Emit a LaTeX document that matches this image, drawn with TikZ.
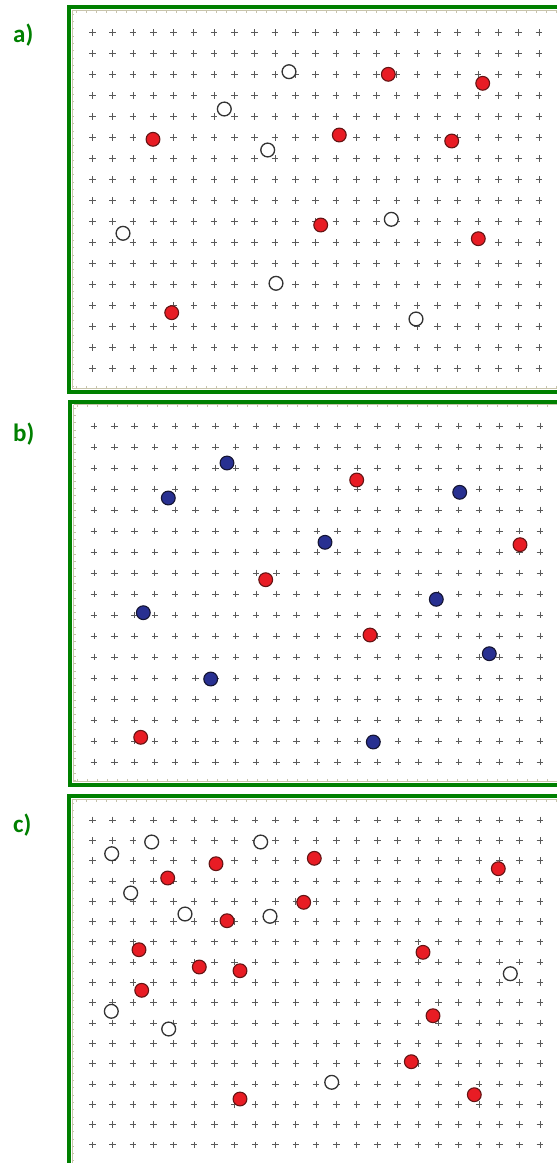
\documentclass[tikz,border=0pt]{standalone}
\usepackage{fontspec}
\newfontfamily\labfont{Carlito}
\definecolor{frameg}{RGB}{0,128,0}
\definecolor{ptred}{RGB}{232,28,36}
\definecolor{ptredd}{RGB}{100,20,20}
\definecolor{ptblue}{RGB}{40,48,145}
\definecolor{ptblued}{RGB}{20,20,50}
\definecolor{pluscol}{RGB}{90,90,90}
\definecolor{rulercol}{RGB}{200,196,172}
\tikzset{
  panelframe/.style={draw=frameg, line width=4pt},
  redpt/.style={circle, draw=ptredd, fill=ptred, line width=1.1pt, minimum size=13.8pt, inner sep=0pt},
  whitept/.style={circle, draw=black!80, fill=white, line width=1.3pt, minimum size=13.8pt, inner sep=0pt},
  bluept/.style={circle, draw=ptblued, fill=ptblue, line width=1.1pt, minimum size=13.8pt, inner sep=0pt},
  plusmark/.style={draw=pluscol, line width=0.8pt},
  panellabel/.style={text=frameg, font=\labfont\bfseries\fontsize{25}{25}\selectfont, anchor=base west, inner sep=0pt},
  rulerline/.style={draw=rulercol, line width=0.6pt},
}
\begin{document}
\begin{tikzpicture}[x=1pt, y=-1pt]
\useasboundingbox (0,0) rectangle (557,1163);
\clip (0,0) rectangle (557,1163);
\fill[white] (0,0) rectangle (557,1163);

% ---------- rulers (faint ticks along inner edges) ----------
% panel a
\draw[rulerline] (72,10.5) -- (557,10.5) (72,10.5) -- (72,388.5) -- (557,388.5);
\foreach \t in {0,...,48} { \draw[rulerline] ({76+\t*10},10.5) -- ++(0,2.2); \draw[rulerline] ({76+\t*10},388.5) -- ++(0,-2.2); }
\foreach \t in {0,...,51} { \draw[rulerline] (72,{14+\t*7.3}) -- ++(2.2,0); }
% panel b
\draw[rulerline] (73.5,404.5) -- (557,404.5) (73.5,404.5) -- (73.5,781.5) -- (557,781.5);
\foreach \t in {0,...,48} { \draw[rulerline] ({77+\t*10},404.5) -- ++(0,2.2); \draw[rulerline] ({77+\t*10},781.5) -- ++(0,-2.2); }
\foreach \t in {0,...,51} { \draw[rulerline] (73.5,{408+\t*7.3}) -- ++(2.2,0); }
% panel c
\draw[rulerline] (72,799.5) -- (557,799.5) (72,799.5) -- (72,1163);
\foreach \t in {0,...,48} { \draw[rulerline] ({76+\t*10},799.5) -- ++(0,2.2); }
\foreach \t in {0,...,49} { \draw[rulerline] (72,{803+\t*7.3}) -- ++(2.2,0); }

% ---------- grids of plus marks ----------
\foreach \i in {0,...,22} {
  \foreach \j in {0,...,16} {
    \draw[plusmark] ({92.3+\i*20.3},{32.3+\j*21.0}) +(-3.3,0) -- +(3.3,0) +(0,-3.3) -- +(0,3.3);
    \draw[plusmark] ({94+\i*20.27},{426+\j*21.0}) +(-3.3,0) -- +(3.3,0) +(0,-3.3) -- +(0,3.3);
    \draw[plusmark] ({92.3+\i*20.35},{820+\j*20.3}) +(-3.3,0) -- +(3.3,0) +(0,-3.3) -- +(0,3.3);
  }
}

% ---------- frames ----------
\draw[panelframe] (575,7) -- (69,7) -- (69,391.5) -- (575,391.5);
\draw[panelframe] (575,401.5) -- (70.3,401.5) -- (70.3,784.7) -- (575,784.7);
\draw[panelframe] (575,796) -- (68.7,796) -- (68.7,1175);

% ---------- labels ----------
\node[panellabel] (la) at (13,42) {a)};
\node[panellabel] (lb) at (13,441) {b)};
\node[panellabel] (lc) at (13,832) {c)};

% ---------- panel a points ----------
\node[whitept] (a1) at (289,71.7) {};
\node[redpt]   (a2) at (388.3,74.3) {};
\node[redpt]   (a3) at (482.7,83.3) {};
\node[whitept] (a4) at (224.3,109) {};
\node[redpt]   (a5) at (153,139.3) {};
\node[redpt]   (a6) at (339.3,135) {};
\node[whitept] (a7) at (267.7,150) {};
\node[redpt]   (a8) at (451.7,141) {};
\node[whitept] (a9) at (391.3,219.3) {};
\node[redpt]   (a10) at (320.7,225) {};
\node[whitept] (a11) at (123,233.3) {};
\node[redpt]   (a12) at (478.3,238.7) {};
\node[whitept] (a13) at (276,283.3) {};
\node[redpt]   (a14) at (171.7,312.7) {};
\node[whitept] (a15) at (416,319) {};

% ---------- panel b points ----------
\node[bluept] (b1) at (227,463) {};
\node[redpt]  (b2) at (356.7,480) {};
\node[bluept] (b3) at (168.3,498) {};
\node[bluept] (b4) at (459.7,492.3) {};
\node[bluept] (b5) at (325,542.3) {};
\node[redpt]  (b6) at (520,544.7) {};
\node[redpt]  (b7) at (265.7,579.7) {};
\node[bluept] (b8) at (436.3,599.3) {};
\node[bluept] (b9) at (143.3,612.7) {};
\node[redpt]  (b10) at (370,635) {};
\node[bluept] (b11) at (489.3,653.7) {};
\node[bluept] (b12) at (210.7,679) {};
\node[redpt]  (b13) at (140.7,737.3) {};
\node[bluept] (b14) at (373.3,742) {};

% ---------- panel c points ----------
\node[whitept] (c1) at (111.7,853.7) {};
\node[whitept] (c2) at (151.7,842) {};
\node[whitept] (c3) at (260.7,842) {};
\node[redpt]   (c4) at (216,863.7) {};
\node[redpt]   (c5) at (314.3,858.3) {};
\node[redpt]   (c6) at (498.3,868.7) {};
\node[redpt]   (c7) at (167.7,878) {};
\node[whitept] (c8) at (130.7,893) {};
\node[redpt]   (c9) at (303.7,902.3) {};
\node[whitept] (c10) at (185,914) {};
\node[whitept] (c11) at (270,916.3) {};
\node[redpt]   (c12) at (227,920.7) {};
\node[redpt]   (c13) at (139,949.7) {};
\node[redpt]   (c14) at (423,952.3) {};
\node[redpt]   (c15) at (199.3,967) {};
\node[redpt]   (c16) at (240,970.7) {};
\node[whitept] (c17) at (510.3,973.7) {};
\node[redpt]   (c18) at (141.7,990.3) {};
\node[whitept] (c19) at (111.3,1011.3) {};
\node[redpt]   (c20) at (433,1015.7) {};
\node[whitept] (c21) at (168.7,1029) {};
\node[redpt]   (c22) at (411.3,1061.7) {};
\node[whitept] (c23) at (331.7,1082.3) {};
\node[redpt]   (c24) at (474.3,1094.7) {};
\node[redpt]   (c25) at (240,1099) {};
\end{tikzpicture}
\end{document}
